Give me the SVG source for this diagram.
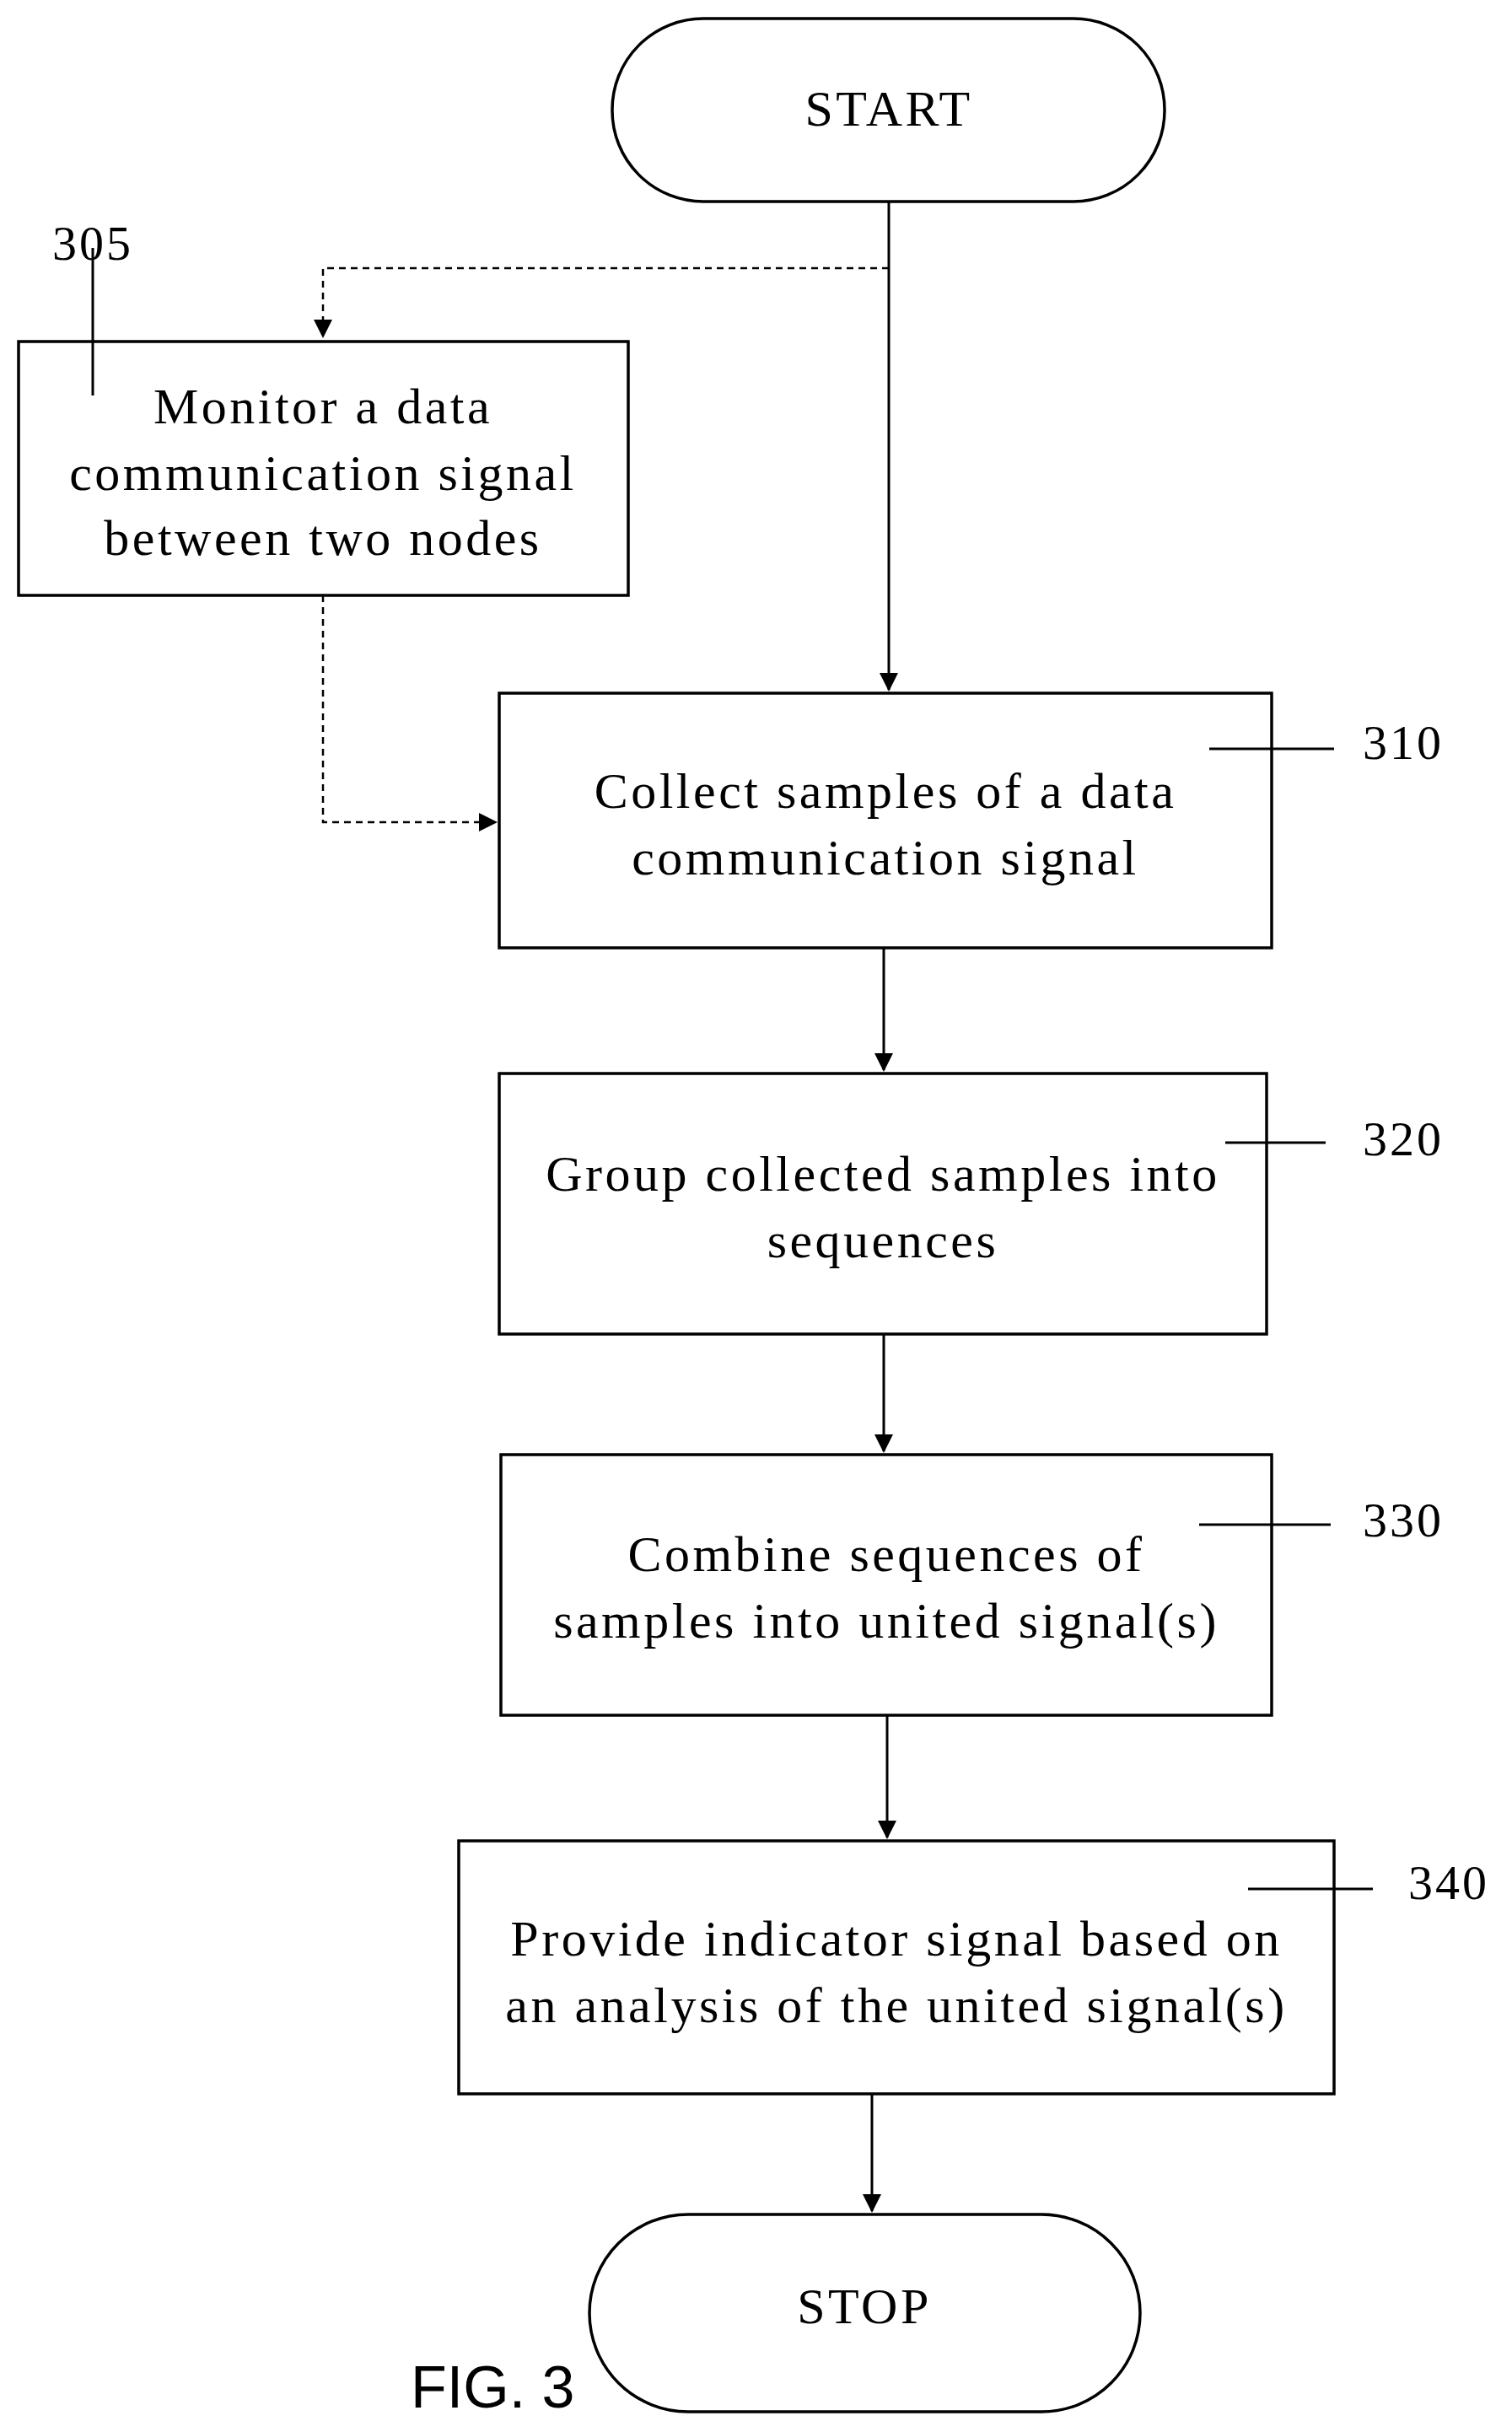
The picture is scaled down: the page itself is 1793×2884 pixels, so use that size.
<svg xmlns="http://www.w3.org/2000/svg" width="1793" height="2884" viewBox="0 0 1793 2884">
<style>
.b{fill:#fff;stroke:#000;stroke-width:3.5}
.t{font-family:"Liberation Serif",serif;font-size:60px;letter-spacing:3.5px;text-anchor:middle;dominant-baseline:central;fill:#000}
.l{font-family:"Liberation Serif",serif;font-size:58px;letter-spacing:3px;fill:#000}
.c{stroke:#000;stroke-width:3;fill:none}
.d{stroke:#000;stroke-width:2.5;fill:none;stroke-dasharray:8 6}
</style>
<defs>
<marker id="A" markerWidth="22" markerHeight="22" refX="20" refY="11" orient="auto" markerUnits="userSpaceOnUse"><path d="M0,0L22,11L0,22z" fill="#000"/></marker></defs>
<g id="start"><rect class="b" x="726" y="22" width="655" height="217" rx="108"/><text class="t" x="1054" y="129">START</text></g>
<g id="n305"><rect class="b" x="22" y="405" width="723" height="301"/><text class="t" x="383" y="482">Monitor a data</text><text class="t" x="383" y="561">communication signal</text><text class="t" x="383" y="638">between two nodes</text><text class="l" x="62" y="308">305</text><line class="c" x1="110" y1="294" x2="110" y2="469"/></g>
<g id="n310"><rect class="b" x="592" y="822" width="916" height="302"/><text class="t" x="1050" y="938">Collect samples of a data</text><text class="t" x="1050" y="1017">communication signal</text><text class="l" x="1616" y="900">310</text><line class="c" x1="1434" y1="888" x2="1582" y2="888" stroke-width="5"/></g>
<g id="n320"><rect class="b" x="592" y="1273" width="910" height="309"/><text class="t" x="1047" y="1392">Group collected samples into</text><text class="t" x="1047" y="1471">sequences</text><text class="l" x="1616" y="1370">320</text><line class="c" x1="1453" y1="1355" x2="1572" y2="1355" stroke-width="2"/></g>
<g id="n330"><rect class="b" x="594" y="1725" width="914" height="309"/><text class="t" x="1051" y="1843">Combine sequences of</text><text class="t" x="1051" y="1922">samples into united signal(s)</text><text class="l" x="1616" y="1822">330</text><line class="c" x1="1422" y1="1808" x2="1578" y2="1808" stroke-width="2"/></g>
<g id="n340"><rect class="b" x="544" y="2183" width="1038" height="300"/><text class="t" x="1063" y="2299">Provide indicator signal based on</text><text class="t" x="1063" y="2378">an analysis of the united signal(s)</text><text class="l" x="1670" y="2252">340</text><line class="c" x1="1480" y1="2240" x2="1628" y2="2240" stroke-width="5"/></g>
<g id="stop"><rect class="b" x="699" y="2626" width="653" height="234" rx="117"/><text class="t" x="1025" y="2735">STOP</text></g>
<text x="487" y="2855" font-family="Liberation Sans,sans-serif" font-size="70">FIG. 3</text>
<g id="connectors">
<line class="c" x1="1054" y1="239" x2="1054" y2="818" marker-end="url(#A)"/>
<path class="d" d="M1054,318H383V399" marker-end="url(#A)"/>
<path class="d" d="M383,706V975H588" marker-end="url(#A)"/>
<line class="c" x1="1048" y1="1124" x2="1048" y2="1269" marker-end="url(#A)"/>
<line class="c" x1="1048" y1="1582" x2="1048" y2="1721" marker-end="url(#A)"/>
<line class="c" x1="1052" y1="2034" x2="1052" y2="2179" marker-end="url(#A)"/>
<line class="c" x1="1034" y1="2483" x2="1034" y2="2622" marker-end="url(#A)"/>
</g>
</svg>
